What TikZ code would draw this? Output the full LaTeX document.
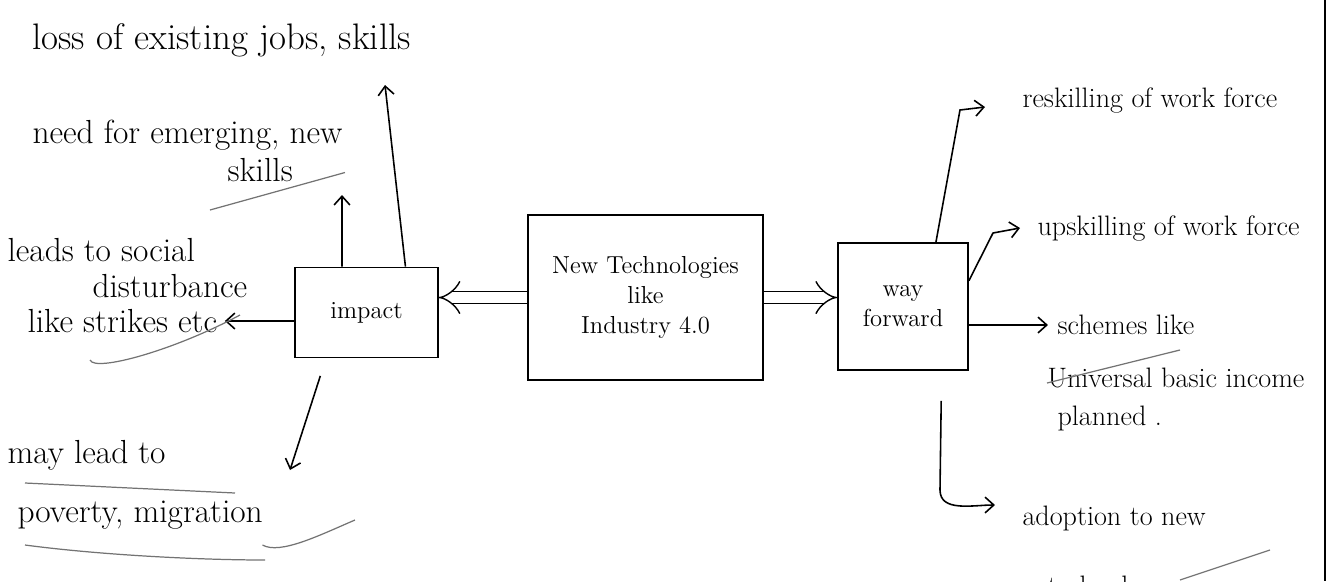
\documentclass[tikz,border=0pt]{standalone}
\usetikzlibrary{arrows.meta,calc}
\tikzset{
  box/.style={draw, line width=1pt, font=\fontsize{14}{17}\selectfont},
  lefttxt/.style={anchor=west, inner sep=1pt, font=\fontsize{19}{23}\selectfont},
  righttxt/.style={anchor=west, inner sep=1pt, font=\fontsize{16}{20}\selectfont},
  dbl/.style={double, double distance=6pt, line width=0.8pt, -{Implies}},
  uline/.style={line width=0.7pt, black!55}
}
\begin{document}
\begin{tikzpicture}[line width=0.9pt,
  >={Straight Barb[length=5pt,width=9pt]}]
\useasboundingbox (0,0) rectangle (26.6,-11.62);
% margin of the page
\draw (26.5,0) -- (26.5,-11.62);

% the three boxes
\node[box, minimum width=2.85cm, minimum height=1.8cm] (impact) at (7.33,-6.25) {impact};
\node[box, minimum width=4.7cm, minimum height=3.3cm, align=center] (tech) at (12.91,-5.95)
  {New Technologies\\like\\Industry 4.0};
\node[box, minimum width=2.6cm, minimum height=2.54cm, align=center] (way) at (18.06,-6.13)
  {way\\forward};

% labels on the left
\draw (0.6,-0.8) node[lefttxt, font=\fontsize{21}{25}\selectfont] (loss) {loss of existing jobs, skills}
      (0.6,-2.7) node[lefttxt] (need) {need for emerging, new}
      (4.5,-3.4) node[lefttxt] (needb) {skills}
      (0.1,-5.0) node[lefttxt] (social) {leads to social}
      (1.8,-5.72) node[lefttxt] (socialb) {disturbance}
      (0.5,-6.42) node[lefttxt] (socialc) {like strikes etc}
      (0.1,-9.1) node[lefttxt] (poverty) {may lead to}
      (0.3,-10.3) node[lefttxt] (povertyb) {poverty, migration};

% labels on the right
\draw (20.4,-2.0) node[righttxt] (reskill) {reskilling of work force}
      (20.7,-4.56) node[righttxt] (upskill) {upskilling of work force}
      (21.1,-6.5) node[righttxt] (scheme) {schemes like}
      (20.9,-7.56) node[righttxt] (schemeb) {Universal basic income}
      (21.1,-8.36) node[righttxt] (schemec) {planned .}
      (20.4,-10.36) node[righttxt] (adopt) {adoption to new}
      (20.9,-11.9) node[righttxt, anchor=base west] (adoptb) {technology};

% arrow tips that end in free space
\coordinate (losstip) at (7.7,-1.7);
\coordinate (needtip) at (6.84,-3.9);
\coordinate (povtip) at (5.8,-9.4);
\coordinate (reskilltip) at (19.7,-2.14);
\coordinate (upskilltip) at (20.4,-4.56);
\coordinate (adopttip) at (19.9,-10.1);

% double arrows from the middle box
\draw[dbl] (tech.west) -- (tech.west -| impact.east);
\draw[dbl] (tech.east) -- (tech.east -| way.west);

% impact
\draw[->] ($(impact.north west)!0.77!(impact.north east)$) -- (losstip);
\draw[->] ($(impact.north west)!0.33!(impact.north east)$) -- (needtip);
\draw[->, shorten >=3pt] (impact.west |- socialc) -- (socialc.east);
\draw[->] ($(impact.south west)!0.18!(impact.south east)$) ++(0,-0.35) -- (povtip);

% way forward
\draw[->] ($(way.north west)!0.75!(way.north east)$) -- (19.2,-2.2) -- (reskilltip);
\draw[->] ($(way.north east)!0.3!(way.south east)$) -- (19.86,-4.66) -- (upskilltip);
\draw[->, shorten >=4pt] (way.east |- scheme) -- (scheme.west);
\draw[->] ($(way.south west)!0.79!(way.south east)$) ++(0,-0.6) -- (18.8,-9.8)
  to[out=-90,in=180] (adopttip);

% underlines
\draw[uline] (4.2,-4.2) -- (6.9,-3.45);
\draw[uline] (1.8,-7.2) .. controls (1.9,-7.45) and (3.5,-7.0) .. (4.8,-6.3);
\draw[uline] (0.5,-9.66) -- (4.7,-9.86);
\draw[uline] (0.5,-10.9) .. controls (2,-11.1) and (4,-11.2) .. (5.3,-11.2);
\draw[uline] (5.25,-10.9) .. controls (5.6,-11.1) and (6.4,-10.7) .. (7.1,-10.4);
\draw[uline] (20.94,-7.66) -- (23.6,-7.0);
\draw[uline] (23.6,-11.6) -- (25.4,-11.0);
\end{tikzpicture}
\end{document}
